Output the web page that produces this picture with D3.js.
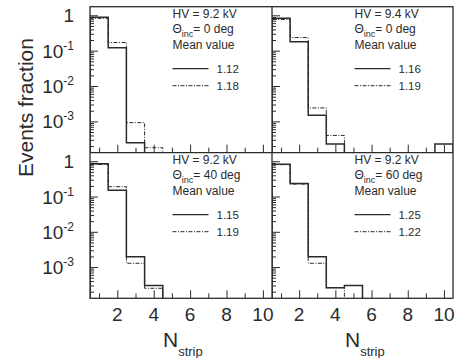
<!DOCTYPE html>
<html><head><meta charset="utf-8">
<script src="https://cdn.jsdelivr.net/npm/d3@7"></script>
<style>
html,body{margin:0;padding:0;background:#fff;}
svg{display:block;font-family:"Liberation Sans",Arial,sans-serif;}
</style></head>
<body><svg id="c" width="459" height="358"></svg>
<script>
// ---- data (bin centres 1..10, events fraction) ----
const nStrip = [1,2,3,4,5,6,7,8,9,10];
const hv92_0deg_solid  = [0.88, 0.12, 2.5e-4, 0, 0, 0, 0, 0, 0, 0];
const hv92_0deg_dash   = [0.82, 0.17, 9.2e-4, 1.8e-4, 0, 0, 0, 0, 0, 0];
const hv94_0deg_solid  = [0.82, 0.18, 1.5e-3, 2.3e-4, 0, 0, 0, 0, 0, 2.3e-4];
const hv94_0deg_dash   = [0.76, 0.235, 2.4e-3, 4.0e-4, 0, 0, 0, 0, 0, 0];
const hv92_40deg_solid = [0.85, 0.15, 1.96e-3, 3.0e-4, 0, 0, 0, 0, 0, 0];
const hv92_40deg_dash  = [0.81, 0.19, 1.28e-3, 2.5e-4, 0, 0, 0, 0, 0, 0];
const hv92_60deg_solid = [0.82, 0.235, 1.96e-3, 2.6e-4, 3.0e-4, 0, 0, 0, 0, 0];
const hv92_60deg_dash  = [0.80, 0.225, 1.28e-3, 2.6e-4, 0, 0, 0, 0, 0, 0];
const hvLabels   = ["HV = 9.2 kV", "HV = 9.4 kV", "HV = 9.2 kV", "HV = 9.2 kV"];
const thetaVals  = ["0", "0", "40", "60"];
const meanSolid  = ["1.12", "1.16", "1.15", "1.25"];
const meanDash   = ["1.18", "1.19", "1.19", "1.22"];
const xTicks = [2, 4, 6, 8, 10];
const yDecades = [1, 1e-1, 1e-2, 1e-3];
const yDecadeLabels = [["1",""], ["10","-1"], ["10","-2"], ["10","-3"]];

// ---- layout ----
const svg = d3.select("#c");
const X0 = 90, XM = 272, X1 = 453;
const Y0 = 6.7, YM = 152.7, Y1 = 298.3;
const ink = "#2b2b2b";
const panels = [
  {x0:X0, x1:XM, y0:Y0, y1:YM, s:hv92_0deg_solid, d:hv92_0deg_dash, i:0, bottom:false},
  {x0:XM, x1:X1, y0:Y0, y1:YM, s:hv94_0deg_solid, d:hv94_0deg_dash, i:1, bottom:false},
  {x0:X0, x1:XM, y0:YM, y1:Y1, s:hv92_40deg_solid, d:hv92_40deg_dash, i:2, bottom:true},
  {x0:XM, x1:X1, y0:YM, y1:Y1, s:hv92_60deg_solid, d:hv92_60deg_dash, i:3, bottom:true}
];

const minorY = [];
[1e-4,1e-3,1e-2,1e-1,1].forEach(d=>{for(let k=2;k<=9;k++){const v=d*k; if(v<1.75&&v>1.3e-4) minorY.push(v);}});

svg.append("defs");
panels.forEach((p,pi)=>{
  const x = d3.scaleLinear().domain([0.5,10.5]).range([p.x0,p.x1]);
  const y = d3.scaleLog().domain([1.3e-4,1.75]).range([p.y1,p.y0]);
  const g = svg.append("g");
  const cid = "clip"+pi;
  svg.select("defs").append("clipPath").attr("id",cid).append("rect")
    .attr("x",p.x0).attr("y",p.y0).attr("width",p.x1-p.x0).attr("height",p.y1-p.y0);

  // histograms
  function histPath(vals){
    const pts=[[x(0.5),p.y1+2]];
    vals.forEach((v,k)=>{
      const yy = v>0 ? y(v) : p.y1+2;
      pts.push([x(nStrip[k]-0.5),yy]); pts.push([x(nStrip[k]+0.5),yy]);
    });
    pts.push([x(10.5),p.y1+2]);
    return d3.line()(pts);
  }
  const hg = g.append("g").attr("clip-path",`url(#${cid})`);
  hg.append("path").attr("d",histPath(p.d)).attr("fill","none").attr("stroke",ink)
    .attr("stroke-width",1).attr("stroke-dasharray","4,1.5,1,1.5");
  hg.append("path").attr("d",histPath(p.s)).attr("fill","none").attr("stroke",ink)
    .attr("stroke-width",1.5);

  // y axis ticks (inside)
  const ya = g.append("g").attr("transform",`translate(${p.x0},0)`)
    .call(d3.axisLeft(y).tickValues(yDecades).tickSize(-8).tickFormat(""));
  const yb = g.append("g").attr("transform",`translate(${p.x0},0)`)
    .call(d3.axisLeft(y).tickValues(minorY).tickSize(-4).tickFormat(""));
  // x axis ticks (inside)
  const xa = g.append("g").attr("transform",`translate(0,${p.y1})`)
    .call(d3.axisBottom(x).tickValues([2,4,6,8,10]).tickSize(-8).tickFormat(""));
  const xb = g.append("g").attr("transform",`translate(0,${p.y1})`)
    .call(d3.axisBottom(x).tickValues([1,3,5,7,9]).tickSize(-5).tickFormat(""));
  [ya,yb,xa,xb].forEach(a=>{a.select(".domain").remove(); a.selectAll("line").attr("stroke",ink).attr("stroke-width",1);});

  // y labels (left panels only)
  if(p.x0===X0){
    yDecades.forEach((v,k)=>{
      const t = svg.append("text").attr("x",74).attr("y",y(v)+7)
        .attr("text-anchor","end").attr("fill",ink).attr("font-size",19);
      t.append("tspan").text(yDecadeLabels[k][0]);
      if(yDecadeLabels[k][1]) t.append("tspan").attr("font-size",12).attr("dy",-8).text(yDecadeLabels[k][1]);
    });
  }
  // x labels
  if(p.bottom){
    xTicks.forEach(v=>{
      svg.append("text").attr("x",x(v)).attr("y",321).attr("text-anchor","middle")
        .attr("fill",ink).attr("font-size",19).text(v);
    });
    const t = svg.append("text").attr("x",p.x0+73).attr("y",346.5).attr("fill",ink).attr("font-size",21);
    t.append("tspan").text("N");
    t.append("tspan").attr("font-size",13).attr("dy",9).text("strip");
  }

  // legend
  const lx = p.x0+82.5, ty = p.y0;
  const lg = svg.append("g").attr("fill",ink).attr("font-size",12);
  lg.append("text").attr("x",lx).attr("y",ty+11.5).text(hvLabels[p.i]);
  const th = lg.append("text").attr("x",lx).attr("y",ty+26);
  th.append("tspan").text("\u0398");
  th.append("tspan").attr("font-size",9).attr("dy",4).text("inc");
  th.append("tspan").attr("dy",-4).text("= "+thetaVals[p.i]+" deg");
  lg.append("text").attr("x",lx).attr("y",ty+42).text("Mean value");
  lg.append("line").attr("x1",lx).attr("x2",lx+36).attr("y1",ty+62).attr("y2",ty+62)
    .attr("stroke",ink).attr("stroke-width",1.2);
  lg.append("text").attr("x",lx+44).attr("y",ty+66).attr("font-size",11.5).text(meanSolid[p.i]);
  lg.append("line").attr("x1",lx).attr("x2",lx+36).attr("y1",ty+79).attr("y2",ty+79)
    .attr("stroke",ink).attr("stroke-width",1).attr("stroke-dasharray","4,1.5,1,1.5");
  lg.append("text").attr("x",lx+44).attr("y",ty+83).attr("font-size",11.5).text(meanDash[p.i]);
});

// frames
svg.append("rect").attr("x",X0).attr("y",Y0).attr("width",X1-X0).attr("height",Y1-Y0)
  .attr("fill","none").attr("stroke",ink).attr("stroke-width",1.3);
svg.append("line").attr("x1",XM).attr("x2",XM).attr("y1",Y0).attr("y2",Y1).attr("stroke",ink).attr("stroke-width",1.3);
svg.append("line").attr("x1",X0).attr("x2",X1).attr("y1",YM).attr("y2",YM).attr("stroke",ink).attr("stroke-width",1.3);

// y title
svg.append("text").attr("transform","translate(33,177) rotate(-90)")
  .attr("fill",ink).attr("font-size",21).text("Events fraction");
</script></body></html>
